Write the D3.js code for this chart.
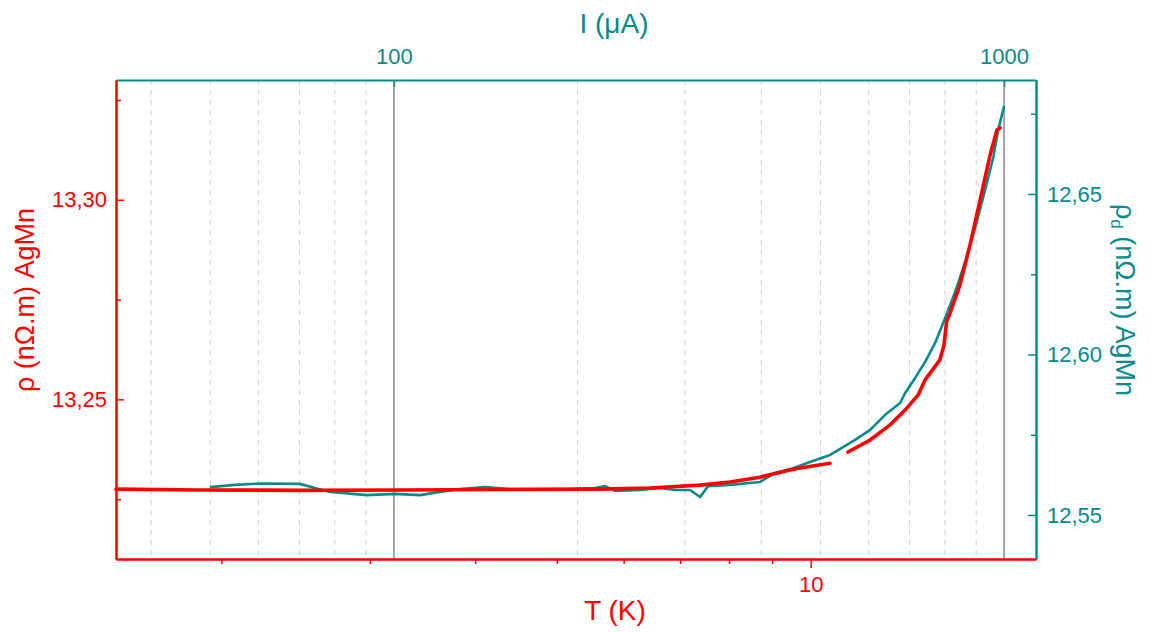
<!DOCTYPE html>
<html><head><meta charset="utf-8">
<script src="https://cdn.jsdelivr.net/npm/d3@7"></script>
<style>
html,body{margin:0;padding:0;background:#fff;}
svg{display:block;font-family:"Liberation Sans",Arial,sans-serif;}
</style></head>
<body>
<svg id="chart" width="1151" height="632"></svg>
<script>
// ---- data ----
// red: rho vs T (bottom / left axes); null marks a gap in the measured curve
const tempK   = [1.50, 1.887, 2.479, 3.258, 4.281, 5.626, 6.448, 7.389, 8.022, 8.708, 9.450, 9.712, 10.54, 10.8,
                 11.07, 11.76, 12.42, 12.94, 13.41, 13.66, 14.23, 14.39, 14.49, 14.63, 15.03, 15.45, 15.88, 16.32, 16.63, 16.77];
const rhoAgMn = [13.2275, 13.2273, 13.2272, 13.2273, 13.2274, 13.2275, 13.2278, 13.2285, 13.2293, 13.2305, 13.2323, 13.2328, 13.2340, null,
                 13.2368, 13.2398, 13.2436, 13.2473, 13.2511, 13.2548, 13.2599, 13.2636, 13.2694, 13.2716, 13.2786, 13.2887, 13.2999, 13.3112, 13.3175, 13.3180];
// teal: differential rho vs I (top / right axes)
const currentUA = [49.9, 54.9, 60.3, 70.1, 74.2, 78.6, 90.3, 100.4, 110.3, 119.0, 128.3, 141.0, 155.0, 173.6, 194.4, 213.5, 221.8,
                   230.3, 253.2, 273.0, 288.9, 305.7, 317.5, 327.2, 355.6, 398.1, 421.3, 445.9, 480.8, 518.6, 569.9, 603.2, 638.4,
                   675.5, 688.4, 714.9, 742.4, 770.9, 800.6, 831.4, 863.4, 896.6, 931.0, 959.6, 977.7, 1000];
const rhoDiffAgMn = [12.5587, 12.5594, 12.5598, 12.5597, 12.5584, 12.5572, 12.5562, 12.5566, 12.5562, 12.5572, 12.5581, 12.5587, 12.5581, 12.5581, 12.5581, 12.5584, 12.5590,
                     12.5575, 12.5578, 12.5584, 12.5578, 12.5578, 12.5556, 12.5590, 12.5594, 12.5603, 12.5631, 12.5643, 12.5665, 12.5687, 12.5734, 12.5765, 12.5812,
                     12.5849, 12.5880, 12.5927, 12.5977, 12.6036, 12.6114, 12.6195, 12.6288, 12.6394, 12.6513, 12.6612, 12.6699, 12.6774];

// ---- ticks ----
const tTicksMajor = [10];
const tTicksMinor = [2, 3, 4, 5, 6, 7, 8, 9];
const iTicksMajor = [100, 1000];
const iGridMinor  = [40, 50, 60, 70, 80, 90, 200, 300, 400, 500, 600, 700, 800, 900];
const rhoTicksMajor = [13.25, 13.30];
const rhoTicksMinor = [13.225, 13.275, 13.325];
const rhoDTicksMajor = [12.55, 12.60, 12.65];
const rhoDTicksMinor = [12.575, 12.625, 12.675];

const RED = "#ff0000", TEAL = "#078a8a";
const L = 116, R = 1036, T = 80, B = 559;

const svg = d3.select("#chart");
svg.append("rect").attr("width", 1151).attr("height", 632).attr("fill", "#fff");

const x  = d3.scaleLog().domain([1.5, 18.5]).range([L, R]);
const xI = d3.scaleLog().domain([35.03, 1128]).range([L, R]);
const y  = d3.scaleLinear().domain([13.21, 13.33]).range([B, T]);
const yR = d3.scaleLinear().domain([12.5363, 12.6855]).range([B, T]);

const loc = d3.formatLocale({decimal: ",", thousands: ".", grouping: [3], currency: ["", ""]});
const f2 = loc.format(".2f");

// grid
svg.append("g").selectAll("line").data(iGridMinor).join("line")
  .attr("x1", d => xI(d)).attr("x2", d => xI(d)).attr("y1", T).attr("y2", B)
  .attr("stroke", "#cfcfcf").attr("stroke-width", 1).attr("stroke-dasharray", "5,5");
svg.append("g").selectAll("line").data(iTicksMajor).join("line")
  .attr("x1", d => xI(d)).attr("x2", d => xI(d)).attr("y1", T).attr("y2", B)
  .attr("stroke", "#8a8a8a").attr("stroke-width", 1.5);

// data lines
const teal = currentUA.map((v, i) => ({x: v, y: rhoDiffAgMn[i]}));
const red  = tempK.map((v, i) => ({x: v, y: rhoAgMn[i]}));

svg.append("path").datum(teal)
  .attr("d", d3.line().x(d => xI(d.x)).y(d => yR(d.y)))
  .attr("fill", "none").attr("stroke", TEAL).attr("stroke-width", 2.6).attr("stroke-linejoin", "round");

svg.append("path").datum(red)
  .attr("d", d3.line().defined(d => d.y != null).x(d => x(d.x)).y(d => y(d.y)))
  .attr("fill", "none").attr("stroke", RED).attr("stroke-width", 3.6).attr("stroke-linejoin", "round").attr("stroke-linecap", "round");

function styleAxis(g, color, fs) {
  g.selectAll(".domain").attr("stroke", color).attr("stroke-width", 2);
  g.selectAll(".tick line").attr("stroke", color).attr("stroke-width", 1.5);
  g.selectAll(".tick text").attr("fill", color).style("font-size", fs + "px")
    .style("font-family", '"Liberation Sans", Arial, sans-serif');
}

// bottom axis (T)
const gB = svg.append("g").attr("transform", `translate(0,${B})`);
gB.call(d3.axisBottom(x).tickValues(tTicksMinor).tickSize(5).tickSizeOuter(0).tickFormat(""));
styleAxis(gB, RED, 22);
const gB2 = svg.append("g").attr("transform", `translate(0,${B})`);
gB2.call(d3.axisBottom(x).tickValues(tTicksMajor).tickSize(9).tickSizeOuter(0).tickPadding(8).tickFormat(d3.format("d")));
styleAxis(gB2, RED, 22);

// top axis (I)
const gT = svg.append("g").attr("transform", `translate(0,${T})`);
gT.call(d3.axisTop(xI).tickValues(iTicksMajor).tickSize(-7).tickSizeOuter(0).tickPadding(16).tickFormat(d3.format("d")));
styleAxis(gT, TEAL, 22);

// left axis (rho)
const gL = svg.append("g").attr("transform", `translate(${L},0)`);
gL.call(d3.axisLeft(y).tickValues(rhoTicksMinor).tickSize(-5).tickSizeOuter(0).tickFormat(""));
styleAxis(gL, RED, 22);
const gL2 = svg.append("g").attr("transform", `translate(${L},0)`);
gL2.call(d3.axisLeft(y).tickValues(rhoTicksMajor).tickSize(-8).tickSizeOuter(0).tickPadding(17).tickFormat(f2));
styleAxis(gL2, RED, 22);
gL2.selectAll(".tick text").attr("x", -9);

// right axis (rho_d)
const gR = svg.append("g").attr("transform", `translate(${R},0)`);
gR.call(d3.axisRight(yR).tickValues(rhoDTicksMinor).tickSize(-5).tickSizeOuter(0).tickFormat(""));
styleAxis(gR, TEAL, 22);
const gR2 = svg.append("g").attr("transform", `translate(${R},0)`);
gR2.call(d3.axisRight(yR).tickValues(rhoDTicksMajor).tickSize(-8).tickSizeOuter(0).tickPadding(19).tickFormat(f2));
styleAxis(gR2, TEAL, 22);
gR2.selectAll(".tick text").attr("x", 11);

// titles
svg.append("text").attr("x", 615).attr("y", 620).attr("text-anchor", "middle")
  .attr("fill", RED).style("font-size", "28px").text("T (K)");
svg.append("text").attr("x", 614).attr("y", 33).attr("text-anchor", "middle")
  .attr("fill", TEAL).style("font-size", "28px").text("I (μA)");
svg.append("text").attr("transform", "translate(34,300) rotate(-90)").attr("text-anchor", "middle")
  .attr("fill", RED).style("font-size", "27px").text("ρ (nΩ.m) AgMn");
const rt = svg.append("text").attr("transform", "translate(1116,300) rotate(90)").attr("text-anchor", "middle")
  .attr("fill", TEAL).style("font-size", "27px");
rt.append("tspan").text("ρ");
rt.append("tspan").attr("dy", 5).style("font-size", "17px").text("d");
rt.append("tspan").attr("dy", -5).text(" (nΩ.m) AgMn");
</script>
</body></html>
